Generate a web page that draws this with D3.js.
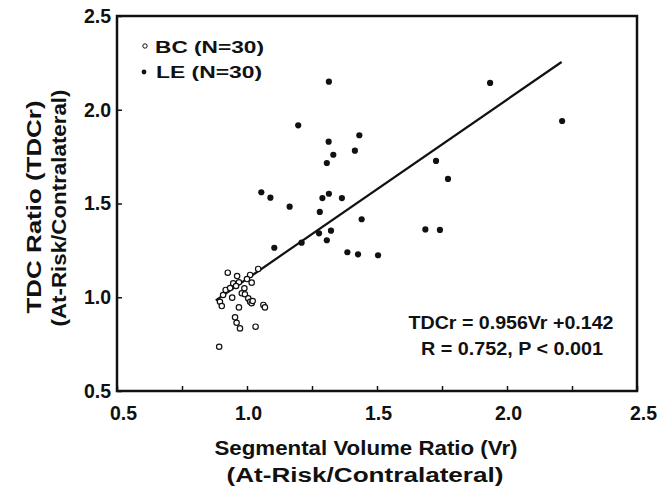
<!DOCTYPE html>
<html>
<head>
<meta charset="utf-8">
<script src="https://cdn.jsdelivr.net/npm/d3@7"></script>
<style>
  body { margin: 0; background: #fff; }
  text { font-family: "Liberation Sans", Arial, sans-serif; font-weight: bold; fill: #111; }
</style>
</head>
<body>
<script>
// Values: [Vr, TDCr]
const bcPoints = [
  [0.926, 1.131], [1.043, 1.151], [1.012, 1.119], [0.947, 1.074], [0.969, 1.080],
  [1.018, 1.078], [0.918, 1.039], [0.990, 1.048], [0.980, 1.021], [0.943, 0.998],
  [0.992, 1.016], [1.005, 0.994], [1.012, 0.976], [1.018, 0.968], [0.896, 0.976],
  [0.903, 0.953], [0.969, 0.946], [1.063, 0.959], [1.069, 0.946], [0.954, 0.893],
  [0.960, 0.864], [0.973, 0.834], [1.033, 0.843], [0.893, 0.736], [0.958, 1.060],
  [0.935, 1.049], [0.908, 1.012], [1.000, 1.097], [1.022, 0.980], [0.962, 1.113]
];
const lePoints = [
  [1.315, 2.150], [1.935, 2.143], [2.212, 1.940], [1.197, 1.917], [1.432, 1.864],
  [1.314, 1.830], [1.415, 1.782], [1.332, 1.760], [1.307, 1.716], [1.055, 1.560],
  [1.090, 1.531], [1.315, 1.552], [1.290, 1.529], [1.365, 1.529], [1.164, 1.483],
  [1.280, 1.455], [1.441, 1.416], [1.686, 1.362], [1.323, 1.355], [1.277, 1.341],
  [1.307, 1.304], [1.105, 1.264], [1.386, 1.240], [1.427, 1.229], [1.504, 1.224],
  [1.727, 1.727], [1.773, 1.631], [1.742, 1.359], [1.210, 1.291]
];
const xTicks = [0.5, 0.75, 1.0, 1.25, 1.5, 1.75, 2.0, 2.25, 2.5];
const yTicks = [0.5, 1.0, 1.5, 2.0, 2.5];
const fitSlope = 0.956;
const fitIntercept = 0.142;
const fitRange = [0.88, 2.21];
const legendLabels = ["BC (N=30)", "LE (N=30)"];
const equationLines = ["TDCr = 0.956Vr +0.142", "R = 0.752, P < 0.001"];
const xTitle = ["Segmental Volume Ratio (Vr)", "(At-Risk/Contralateral)"];
const yTitle = ["TDC Ratio (TDCr)", "(At-Risk/Contralateral)"];

const W = 664, H = 489;
const svg = d3.select("body").append("svg")
  .attr("width", W)
  .attr("height", H);

const x = d3.scaleLinear().domain([0.5, 2.5]).range([117, 637]);
const y = d3.scaleLinear().domain([0.5, 2.5]).range([391, 16]);

// stretch text to the width it has in the figure
function fitWidth(sel, w) {
  sel.attr("textLength", w).attr("lengthAdjust", "spacingAndGlyphs");
}

// X axis: inward ticks, labels only on the half steps
const xAxis = svg.append("g")
  .attr("transform", `translate(0, ${y(0.5)})`)
  .call(d3.axisBottom(x)
    .tickValues(xTicks)
    .tickSize(-5)
    .tickPadding(15)
    .tickFormat(d => (Math.round(d * 4) % 2 === 0) ? d3.format(".1f")(d) : ""));
xAxis.select(".domain").remove();
xAxis.selectAll("line").attr("stroke", "#111").attr("stroke-width", 1.5);
xAxis.selectAll("text").style("font-size", "19.5px")
  .attr("dx", d => (d === 0.5 || d === 2.5) ? 6 : 1);

// Y axis
const yAxis = svg.append("g")
  .attr("transform", `translate(${x(0.5)}, 0)`)
  .call(d3.axisLeft(y)
    .tickValues(yTicks)
    .tickSize(-5)
    .tickPadding(6)
    .tickFormat(d3.format(".1f")));
yAxis.select(".domain").remove();
yAxis.selectAll("line").attr("stroke", "#111").attr("stroke-width", 1.5);
yAxis.selectAll("text").style("font-size", "19.5px");

// frame
svg.append("rect")
  .attr("x", x(0.5))
  .attr("y", y(2.5))
  .attr("width", x(2.5) - x(0.5))
  .attr("height", y(0.5) - y(2.5))
  .attr("fill", "none")
  .attr("stroke", "#111")
  .attr("stroke-width", 2.5);

// regression line
svg.append("line")
  .attr("x1", x(fitRange[0]))
  .attr("y1", y(fitSlope * fitRange[0] + fitIntercept))
  .attr("x2", x(fitRange[1]))
  .attr("y2", y(fitSlope * fitRange[1] + fitIntercept))
  .attr("stroke", "#111")
  .attr("stroke-width", 2.2);

// BC open circles
svg.append("g").selectAll("circle")
  .data(bcPoints)
  .join("circle")
  .attr("cx", d => x(d[0]))
  .attr("cy", d => y(d[1]))
  .attr("r", 2.7)
  .attr("fill", "#fff")
  .attr("stroke", "#111")
  .attr("stroke-width", 1.2);

// LE filled dots
svg.append("g").selectAll("circle")
  .data(lePoints)
  .join("circle")
  .attr("cx", d => x(d[0]))
  .attr("cy", d => y(d[1]))
  .attr("r", 3.1)
  .attr("fill", "#111");

// legend
svg.append("circle").attr("cx", 145).attr("cy", 46).attr("r", 2.2)
  .attr("fill", "#fff").attr("stroke", "#111").attr("stroke-width", 1);
svg.append("circle").attr("cx", 144).attr("cy", 72).attr("r", 2.4).attr("fill", "#111");
svg.append("text").attr("x", 155).attr("y", 53).style("font-size", "17px")
  .text(legendLabels[0]).call(fitWidth, 109);
svg.append("text").attr("x", 156).attr("y", 78).style("font-size", "17px")
  .text(legendLabels[1]).call(fitWidth, 106);

// equation
svg.append("text").attr("x", 511).attr("y", 329).attr("text-anchor", "middle")
  .style("font-size", "18px").text(equationLines[0]).call(fitWidth, 205);
svg.append("text").attr("x", 512).attr("y", 355).attr("text-anchor", "middle")
  .style("font-size", "18px").text(equationLines[1]).call(fitWidth, 182);

// axis titles
svg.append("text").attr("x", 366).attr("y", 455).attr("text-anchor", "middle")
  .style("font-size", "20px").text(xTitle[0]).call(fitWidth, 303);
svg.append("text").attr("x", 365).attr("y", 482).attr("text-anchor", "middle")
  .style("font-size", "20px").text(xTitle[1]).call(fitWidth, 277);

svg.append("text").attr("transform", "translate(41, 207) rotate(-90)")
  .attr("text-anchor", "middle")
  .style("font-size", "20px").text(yTitle[0]).call(fitWidth, 213);
svg.append("text").attr("transform", "translate(66, 208) rotate(-90)")
  .attr("text-anchor", "middle")
  .style("font-size", "20px").text(yTitle[1]).call(fitWidth, 237);
</script>
</body>
</html>
